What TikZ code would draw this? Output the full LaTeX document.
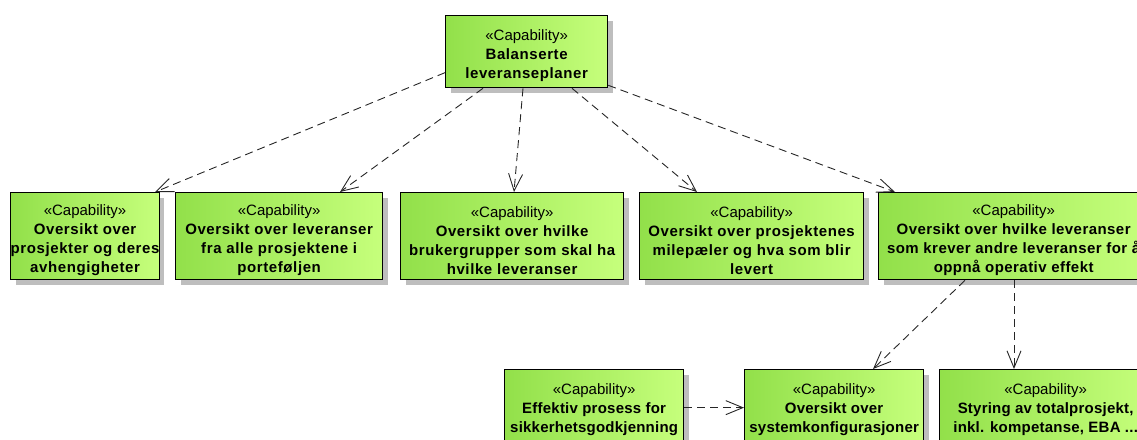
\documentclass[tikz,border=0pt]{standalone}
\usepackage{fontspec}
\setmainfont{Liberation Sans}[BoldFeatures={LetterSpace=4}]
\newfontfamily\capmid{Liberation Sans}[BoldFeatures={LetterSpace=3}]
\newfontfamily\captight{Liberation Sans}[BoldFeatures={LetterSpace=1.5}]
\usetikzlibrary{arrows.meta,shadows}

\definecolor{capleft}{RGB}{146,224,74}
\definecolor{capright}{RGB}{198,255,124}
\definecolor{capshadow}{RGB}{190,190,190}

% stereotype line (with a strut that sets the text block slightly low) and bold name lines
\newcommand\capst{\rule{0pt}{19pt}«Capability»}
\newcommand\capname[1]{{\bfseries #1}}
\newcommand\capnamem[1]{{\capmid\bfseries #1}}
\newcommand\capnamet[1]{{\captight\bfseries #1}}

\tikzset{
  capbox/.style={draw=black, line width=1.3pt, left color=capleft, right color=capright,
    anchor=north west, inner sep=0pt, align=center,
    font=\fontsize{15}{19}\selectfont,
    drop shadow={shadow xshift=5pt, shadow yshift=-5pt, fill=capshadow, opacity=1}},
  dep/.style={draw=black!85, line width=0.9pt, dash pattern=on 8pt off 5pt,
    -{Straight Barb[length=17pt,width=14pt,line width=0.9pt]}}
}

\begin{document}
\begin{tikzpicture}[x=1pt,y=-1pt]
\useasboundingbox (0,0) rectangle (1137,439);
\clip (0,0) rectangle (1137,439);

% capabilities
\node[capbox, minimum width=162pt, minimum height=72pt] (top) at (445,15)
  {\capst\\\capname{Balanserte}\\\capname{leveranseplaner}};

\node[capbox, minimum width=148pt, minimum height=87pt] (b1) at (10,192)
  {\capst\\\capname{Oversikt over}\\\capname{prosjekter og deres}\\\capname{avhengigheter}};
\node[capbox, minimum width=207pt, minimum height=87pt] (b2) at (175,192)
  {\capst\\\capname{Oversikt over leveranser}\\\capname{fra alle prosjektene i}\\\capname{porteføljen}};
\node[capbox, minimum width=223pt, minimum height=87pt] (b3) at (400,192)
  {\capst\\\capname{Oversikt over hvilke}\\\capname{brukergrupper som skal ha}\\\capname{hvilke leveranser}};
\node[capbox, minimum width=224pt, minimum height=87pt] (b4) at (639,192)
  {\capst\\\capname{Oversikt over prosjektenes}\\\capname{milepæler og hva som blir}\\\capname{levert}};
\node[capbox, minimum width=270pt, minimum height=87pt] (b5) at (878,192)
  {\capst\\\capnamem{Oversikt over hvilke leveranser}\\\capnamem{som krever andre leveranser for å}\\\capnamem{oppnå operativ effekt}};

\node[capbox, minimum width=179pt, minimum height=72pt] (b6) at (504,369)
  {\capst\\\capnamet{Effektiv prosess for}\\\capnamet{sikkerhetsgodkjenning}};
\node[capbox, minimum width=179pt, minimum height=72pt] (b7) at (744,369)
  {\capst\\\capnamet{Oversikt over}\\\capnamet{systemkonfigurasjoner}};
\node[capbox, minimum width=212pt, minimum height=72pt] (b8) at (939,369)
  {\capst\\\capnamet{Styring av totalprosjekt,}\\\capnamet{inkl. kompetanse, EBA ...}};

% dependencies
\draw[dep] ([yshift=-21pt]top.west) -- ([xshift=-5pt]b1.north east);
\draw[dep] ([xshift=38pt]top.south west) -- ([xshift=165pt]b2.north west);
\draw[dep] ([xshift=78pt]top.south west) -- ([xshift=114pt]b3.north west);
\draw[dep] ([xshift=127pt]top.south west) -- ([xshift=58pt]b4.north west);
\draw[dep] ([yshift=3pt]top.south east) -- ([xshift=17pt]b5.north west);
\draw[dep] ([xshift=87pt]b5.south west) -- ([xshift=129pt]b7.north west);
\draw[dep] ([xshift=136pt]b5.south west) -- ([xshift=75pt]b8.north west);
\draw[dep] ([yshift=-2pt]b6.east) -- ([yshift=-2pt]b7.west);
\end{tikzpicture}
\end{document}
